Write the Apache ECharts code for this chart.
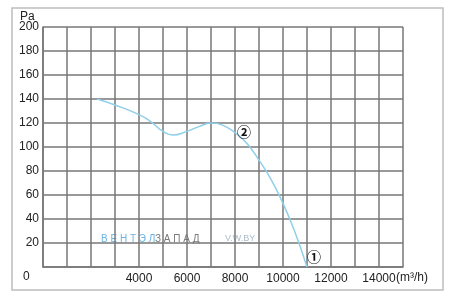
<!DOCTYPE html>
<html><head><meta charset="utf-8">
<script src="https://cdn.jsdelivr.net/npm/echarts@6/dist/echarts.min.js"></script>
<style>html,body{margin:0;padding:0;background:#fff}#c{width:453px;height:302px}</style>
</head><body><div id="c"></div>
<script>
// data
var flow = [2250, 3000, 4000, 4500, 5000, 5400, 6000, 6500, 7000, 7500, 8000, 8500, 9000, 9500, 10000, 10500, 11000];
var pressure = [140, 135, 127, 121, 113, 110, 113, 117, 120, 118, 112, 103, 89, 73, 53, 29, 0];
var xTickLabels = [4000, 6000, 8000, 10000, 12000, 14000];
var curveMarks = [{label: '②', x: 8375, y: 112.5}, {label: '①', x: 11290, y: 9}];

var chart = echarts.init(document.getElementById('c'));
var font = 'Liberation Sans, Arial, sans-serif';
var gridColor = '#777777';
chart.setOption({
  animation: false,
  grid: {left: 43, top: 27, width: 360, height: 240, show: false},
  xAxis: {
    type: 'value', min: 0, max: 15000, interval: 1000,
    axisLine: {show: true, lineStyle: {color: gridColor, width: 1.5}},
    axisTick: {show: false},
    splitLine: {show: true, lineStyle: {color: gridColor, width: 1.5}},
    axisLabel: {
      margin: 6, color: '#222', fontSize: 12, fontFamily: font,
      formatter: function (v) { return xTickLabels.indexOf(v) >= 0 ? String(v) : ''; }
    }
  },
  yAxis: {
    type: 'value', min: 0, max: 200, interval: 20,
    axisLine: {show: true, lineStyle: {color: gridColor, width: 1.5}},
    axisTick: {show: false},
    splitLine: {show: true, lineStyle: {color: gridColor, width: 1.5}},
    axisLabel: {
      margin: 4, color: '#222', fontSize: 12, fontFamily: font,
      formatter: function (v) { return v === 0 ? '' : String(v); }
    }
  },
  series: [{
    type: 'line', smooth: 0.5, symbol: 'none',
    lineStyle: {color: '#8fcfe9', width: 1.5},
    data: flow.map(function (f, i) { return [f, pressure[i]]; }),
    markPoint: {
      symbol: 'circle', symbolSize: 0,
      label: {show: true, position: 'inside', color: '#111', fontSize: 14, fontWeight: 'bold', fontFamily: 'Noto Sans CJK SC, DejaVu Sans, sans-serif',
        formatter: function (p) { return p.name; }},
      data: curveMarks.map(function (m) { return {name: m.label, coord: [m.x, m.y]}; })
    }
  }],
  graphic: [
    {type: 'rect', shape: {x: 12, y: 8, width: 431, height: 282}, style: {fill: 'none', stroke: '#bdbdbd', lineWidth: 1.5}, z: -1},
    {type: 'text', left: 20, top: 11, style: {text: 'Pa', fill: '#222', font: '12px ' + font}},
    {type: 'text', left: 23, top: 271, style: {text: '0', fill: '#222', font: '12px ' + font}},
    {type: 'text', left: 396, top: 272, style: {text: '(m³/h)', fill: '#222', font: '12px ' + font}},
    {type: 'text', left: 101, top: 234, style: {text: 'В Е Н Т Э Л', fill: '#6cb4e4', font: '10px ' + font}},
    {type: 'text', left: 155, top: 234, style: {text: 'З А П А Д', fill: '#7a7a7a', font: '10px ' + font}},
    {type: 'text', left: 225, top: 234, style: {text: 'V.W.BY', fill: '#a9bccc', font: '9px ' + font}}
  ]
});
</script></body></html>
